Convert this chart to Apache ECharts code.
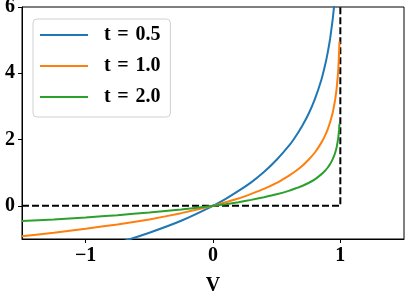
<!DOCTYPE html>
<html><head><meta charset="utf-8">
<script src="https://cdn.jsdelivr.net/npm/echarts@6/dist/echarts.min.js"></script>
<style>html,body{margin:0;padding:0;background:#fff}#c{width:407px;height:293px}</style>
</head><body><div id="c"></div>
<script>
// V sample positions (x values)
const vValues = [-1.5, -1.25, -1.0, -0.75, -0.5, -0.25, 0.0, 0.1, 0.2, 0.3, 0.4, 0.5, 0.6, 0.65, 0.7, 0.75, 0.8, 0.85, 0.88, 0.9, 0.92, 0.94, 0.95, 0.96, 0.97, 0.98, 0.985, 0.99, 0.993];
// curve values
const t05 = [-1.83, -1.62, -1.39, -1.12, -0.81, -0.45, 0.0, 0.21, 0.45, 0.71, 1.02, 1.39, 1.83, 2.10, 2.41, 2.77, 3.22, 3.79, 4.24, 4.61, 5.05, 5.63, 5.99, 6.44, 7.01, 7.82, 8.40, 9.21, 9.92];
const t10 = [-0.92, -0.81, -0.69, -0.56, -0.41, -0.22, 0.0, 0.11, 0.22, 0.36, 0.51, 0.69, 0.92, 1.05, 1.20, 1.39, 1.61, 1.90, 2.12, 2.30, 2.53, 2.81, 3.00, 3.22, 3.51, 3.91, 4.20, 4.61, 4.96];
const t20 = [-0.46, -0.41, -0.35, -0.28, -0.20, -0.11, 0.0, 0.05, 0.11, 0.18, 0.26, 0.35, 0.46, 0.53, 0.60, 0.69, 0.80, 0.95, 1.06, 1.15, 1.26, 1.41, 1.50, 1.61, 1.75, 1.96, 2.10, 2.30, 2.48];
const seriesNames = ['t = 0.5', 't = 1.0', 't = 2.0'];
const boundX = [-1.5, 1.0, 1.0];
const boundY = [0, 0, 6];
const xTicks = [-1, 0, 1];
const yTicks = [0, 2, 4, 6];

const pair = (xs, ys) => xs.map((x, i) => [x, ys[i]]);
const font = '"Liberation Serif","DejaVu Serif",serif';
const colors = ['#1f77b4', '#ff7f0e', '#2ca02c'];
const chart = echarts.init(document.getElementById('c'));
const curve = (i, ys) => ({
  name: seriesNames[i], type: 'line', data: pair(vValues, ys), smooth: 0.15,
  showSymbol: false, clip: true, lineStyle: {color: colors[i], width: 2}, itemStyle: {color: colors[i]}, z: 3
});
chart.setOption({
  animation: false,
  grid: {left: 22, right: 3, top: 7, bottom: 54, show: true, borderColor: '#000', borderWidth: 1, outerBoundsMode: 'none', containLabel: false},
  legend: {
    left: 33, top: 19, orient: 'vertical', itemGap: 11, itemWidth: 48, itemHeight: 2,
    padding: [6, 10, 10, 7], borderColor: '#d0d0d0', borderWidth: 1, borderRadius: 4,
    backgroundColor: 'rgba(255,255,255,0.8)',
    icon: 'rect',
    formatter: n => n.replace(' = ', '\u200a = \u200a'),
    textStyle: {fontFamily: font, fontWeight: 'bold', fontSize: 20, color: '#000', padding: [0, 0, 0, 11]},
    data: seriesNames
  },
  xAxis: {
    type: 'value', min: -1.5, max: 1.5,
    name: 'V', nameLocation: 'middle', nameGap: 37,
    nameTextStyle: {fontFamily: font, fontWeight: 'bold', fontSize: 20, color: '#000'},
    splitLine: {show: false},
    axisLine: {show: true, onZero: false, lineStyle: {color: '#000', width: 1}},
    axisTick: {show: true, length: 4, customValues: xTicks, lineStyle: {color: '#000'}},
    axisLabel: {customValues: xTicks, margin: 7, fontFamily: font, fontWeight: 'bold', fontSize: 20, color: '#000',
      formatter: v => (v < 0 ? '\u2212' + Math.abs(v) : String(v))}
  },
  yAxis: {
    type: 'value', min: -1, max: 6,
    splitLine: {show: false},
    axisLine: {show: true, onZero: false, lineStyle: {color: '#000', width: 1}},
    axisTick: {show: true, length: 4, customValues: yTicks, lineStyle: {color: '#000'}},
    axisLabel: {customValues: yTicks, margin: 7, fontFamily: font, fontWeight: 'bold', fontSize: 20, color: '#000'}
  },
  series: [
    curve(0, t05), curve(1, t10), curve(2, t20),
    {name: 'bound', type: 'line', data: pair(boundX, boundY), showSymbol: false, clip: true, lineStyle: {color: '#000', width: 2, type: [7, 3]}, z: 2}
  ]
});
</script></body></html>
